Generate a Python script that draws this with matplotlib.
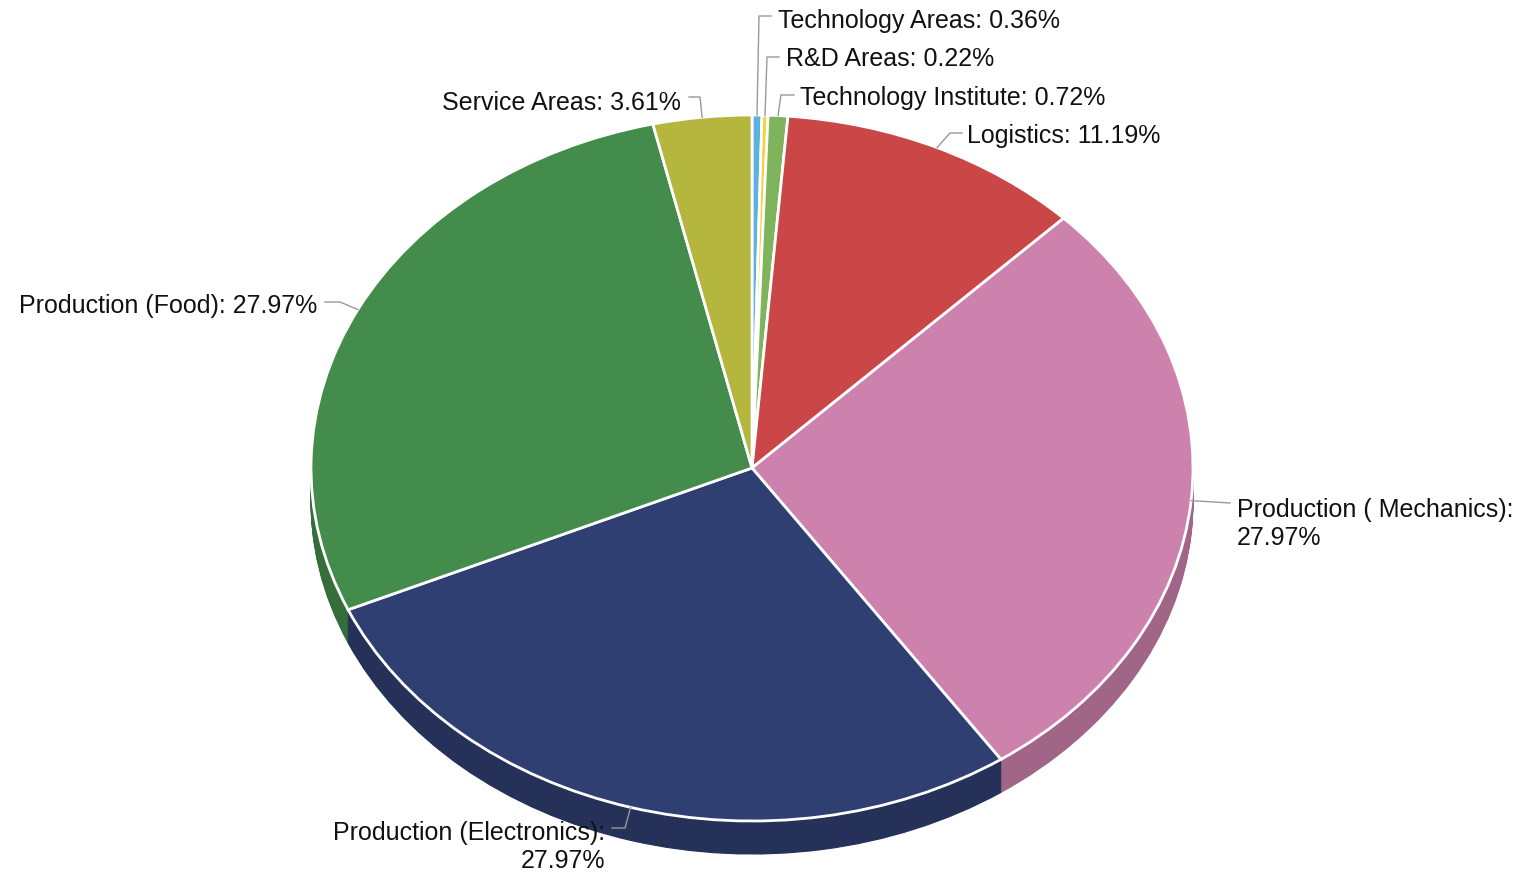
import numpy as np
import matplotlib
matplotlib.use('Agg')
import matplotlib.pyplot as plt
from matplotlib.lines import Line2D
from matplotlib.colors import to_rgb

# --------------------------------------------------------------------------
# data

names = ['Technology Areas', 'R&D Areas', 'Technology Institute', 'Logistics',
         'Production ( Mechanics)', 'Production (Electronics)',
         'Production (Food)', 'Service Areas']
shares = [0.36, 0.22, 0.72, 11.19, 27.97, 27.97, 27.97, 3.61]
colors = ['#5db1df', '#f4d23a', '#7fb35c', '#cb4646',
          '#cd82ad', '#2f3f72', '#448c4c', '#b5b63e']

# --------------------------------------------------------------------------
# layout (pixels)

W, H = 1522, 874
CX, CY, RX, RY = 752, 468, 441, 353
DEPTH = 33

plt.rcParams['font.family'] = ['Liberation Sans', 'DejaVu Sans']

fig = plt.figure(figsize=(W / 100, H / 100), dpi=100)
ax = fig.add_axes([(CX - RX) / W, 1 - (CY + RY) / H, 2 * RX / W, 2 * RY / H])

dark = [tuple(c * 0.78 for c in to_rgb(col)) for col in colors]

# side of the 3d pie: stack of darker pies going down
for k in range(DEPTH, 0, -1):
    wedges, _ = ax.pie(shares, colors=dark, center=(0, -k / RY), radius=1,
                       startangle=90, counterclock=False,
                       wedgeprops=dict(linewidth=0.8, clip_on=False))
    for w_, c in zip(wedges, dark):
        w_.set_edgecolor(c)

# top surface
wedges, _ = ax.pie(shares, colors=colors, radius=1, startangle=90,
                   counterclock=False,
                   wedgeprops=dict(edgecolor='white', linewidth=2, clip_on=False))

ax.set_aspect('auto')
ax.set_xlim(-1, 1)
ax.set_ylim(-1, 1)
ax.axis('off')

# --------------------------------------------------------------------------
# labels with connectors

label_text = ['Technology Areas: 0.36%', 'R&D Areas: 0.22%',
              'Technology Institute: 0.72%', 'Logistics: 11.19%',
              'Production ( Mechanics):\n27.97%',
              'Production (Electronics):\n27.97%',
              'Production (Food): 27.97%', 'Service Areas: 3.61%']

# text anchor (x, y, ha) and connector bend / end points, in pixels
label_pos = [(778, 21, 'left'), (786, 59, 'left'), (800, 98, 'left'),
             (967, 136, 'left'), (1237, 524, 'left'), (605, 847, 'right'),
             (317, 306, 'right'), (681, 103, 'right')]
bends = [(759, 16), (767, 57), (781, 95), (950, 133), (1230, 503),
         (625, 828), (340, 302), (700, 97)]
ends = [(771, 16), (779, 57), (794, 95), (962, 133), (1230, 503),
        (612, 828), (325, 302), (689, 97)]

cum = np.cumsum([0] + shares)
total = cum[-1]
to_fig = fig.transFigure.inverted()

for i in range(len(shares)):
    mid = np.deg2rad((cum[i] + cum[i + 1]) / 2 / total * 360)
    sx, sy = to_fig.transform(ax.transData.transform((np.sin(mid), np.cos(mid))))
    pts = [(sx, sy)] + [(x / W, 1 - y / H) for x, y in (bends[i], ends[i])]
    fig.add_artist(Line2D([p[0] for p in pts], [p[1] for p in pts],
                          transform=fig.transFigure, color='#999999', lw=1))
    tx, ty, ha = label_pos[i]
    fig.text(tx / W, 1 - ty / H, label_text[i], ha=ha, va='center',
             fontsize=18, color='#111111', linespacing=1.2,
             multialignment=ha)

fig.savefig('out.png', dpi=100)
